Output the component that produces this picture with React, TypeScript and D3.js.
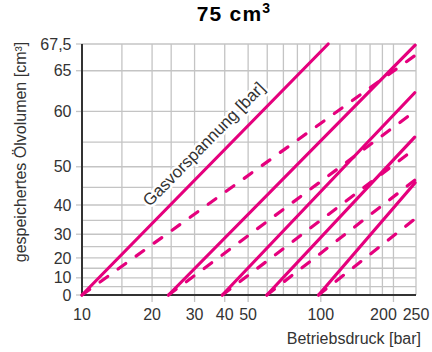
import React from "react";
import * as d3 from "d3";

// ---- data ----
const prechargeBar = [10, 23.4, 39.1, 59.8, 97.9];
const isoEndBar = [107.3, 246, 245, 245, 246];
const isoEndVol = [67.5, 67.4, 62.5, 55.9, 46.2];
const adiEndBar = [246, 247, 246, 246, 247];
const adiEndVol = [66.5, 60.1, 53.8, 46.9, 35.7];

const yTickValues = [0, 10, 20, 30, 40, 50, 60, 65, 67.5];
const yTickLabels = ["0", "10", "20", "30", "40", "50", "60", "65", "67,5"];
const yGridValues = [5, 10, 15, 20, 25, 30, 35, 40, 45, 50, 55, 60, 65, 67.5];
const xTickValues = [10, 20, 30, 40, 50, 100, 200, 250];
const xTickLabels = ["10", "20", "30", "40", "50", "100", "200", "250"];
const xGridValues = [15, 20, 24, 30, 40, 50, 60, 70, 80, 90, 100, 120, 140, 160, 180, 200, 250];

const V0 = 78; // effective volume used by the chart's volume axis
const VMAX = 67.5;

const W = 432;
const H = 352;
const MAGENTA = "#e5007d";
const FONT = "'Liberation Sans', Arial, Helvetica, sans-serif";

export default function App() {
  const x = d3.scaleLog().domain([10.25, 248]).range([82, 416]).clamp(true);
  const yLog = d3.scaleLog().domain([1, 1 - VMAX / V0]).range([295, 44]);
  const y = (v: number) => yLog(1 - v / V0);

  const line = d3
    .line<[number, number]>()
    .x((d) => x(d[0]))
    .y((d) => y(d[1]));

  const iso = prechargeBar.map((p, i) => [
    [p, 0],
    [isoEndBar[i], isoEndVol[i]],
  ] as [number, number][]);
  const adi = prechargeBar.map((p, i) => [
    [p, 0],
    [adiEndBar[i], adiEndVol[i]],
  ] as [number, number][]);

  const x0 = x.range()[0];
  const x1 = x.range()[1];
  const yBottom = y(0);
  const yTop = y(VMAX);

  // label along first isotherm
  const p0 = [x(iso[0][0][0]), y(iso[0][0][1])];
  const p1 = [x(iso[0][1][0]), y(iso[0][1][1])];
  const len = Math.hypot(p1[0] - p0[0], p1[1] - p0[1]);
  const dir = [(p1[0] - p0[0]) / len, (p1[1] - p0[1]) / len];
  const nrm = [dir[1], -dir[0]];
  const ang = (Math.atan2(dir[1], dir[0]) * 180) / Math.PI;
  const lb = [p0[0] + 110 * dir[0] + 13 * nrm[0], p0[1] + 110 * dir[1] + 13 * nrm[1]];

  return (
    <svg
      width={W}
      height={H}
      style={{ position: "absolute", left: 0, top: 0, background: "#fff" }}
      fontFamily={FONT}
    >
      <rect width={W} height={H} fill="#fff" />
      {/* grid */}
      <g stroke="#c4c4c4" strokeWidth={1.3}>
        {yGridValues.map((v) => (
          <line key={"gy" + v} x1={x0} x2={x1} y1={y(v)} y2={y(v)} />
        ))}
        {yTickValues.map((v) => (
          <line key={"ty" + v} x1={x0 - 6} x2={x0} y1={y(v)} y2={y(v)} />
        ))}
        {xGridValues.map((v) => (
          <line key={"gx" + v} x1={x(v)} x2={x(v)} y1={yTop} y2={yBottom} />
        ))}
        {xTickValues.slice(1, -1).map((v) => (
          <line key={"tx" + v} x1={x(v)} x2={x(v)} y1={yBottom} y2={yBottom + 7} />
        ))}
      </g>
      {/* axes */}
      <line x1={x0} x2={x0} y1={yTop} y2={yBottom + 1} stroke="#333" strokeWidth={2} />
      <line x1={x0 - 1} x2={x1} y1={yBottom} y2={yBottom} stroke="#333" strokeWidth={2} />

      {/* label along line */}
      <text
        transform={`translate(${lb[0]},${lb[1]}) rotate(${ang})`}
        fontSize={16.8}
        fill="#333"
        stroke="#fff"
        strokeWidth={5}
        strokeLinejoin="round"
        style={{ paintOrder: "stroke" }}
      >
        Gasvorspannung [bar]
      </text>

      {/* curves */}
      <g fill="none" stroke={MAGENTA} strokeWidth={3.2} strokeLinecap="round">
        {adi.map((d, i) => (
          <path key={"a" + i} d={line(d) || ""} strokeDasharray="9.5 12.7" />
        ))}
        {iso.map((d, i) => (
          <path key={"s" + i} d={line(d) || ""} />
        ))}
      </g>

      {/* tick labels */}
      <g fontSize={16} fill="#333">
        {yTickValues.map((v, i) => (
          <text key={"ly" + v} x={71.5} y={y(v)} dy="0.35em" textAnchor="end">
            {yTickLabels[i]}
          </text>
        ))}
        {xTickValues.map((v, i) => (
          <text
            key={"lx" + v}
            x={x(v) + (v === 200 ? -10 : 0)}
            y={320}
            textAnchor="middle"
          >
            {xTickLabels[i]}
          </text>
        ))}
      </g>

      {/* axis titles */}
      <text x={421} y={344} fontSize={16} fill="#333" textAnchor="end">
        Betriebsdruck [bar]
      </text>
      <text
        transform={`translate(26,152) rotate(-90)`}
        fontSize={16}
        fill="#333"
        textAnchor="middle"
      >
        gespeichertes Ölvolumen [cm³]
      </text>

      {/* title */}
      <text x={234} y={21} fontSize={21} fontWeight="bold" fill="#000" textAnchor="middle" letterSpacing={1.2}>
        75 cm<tspan fontSize={14} dy={-8}>3</tspan>
      </text>
    </svg>
  );
}
